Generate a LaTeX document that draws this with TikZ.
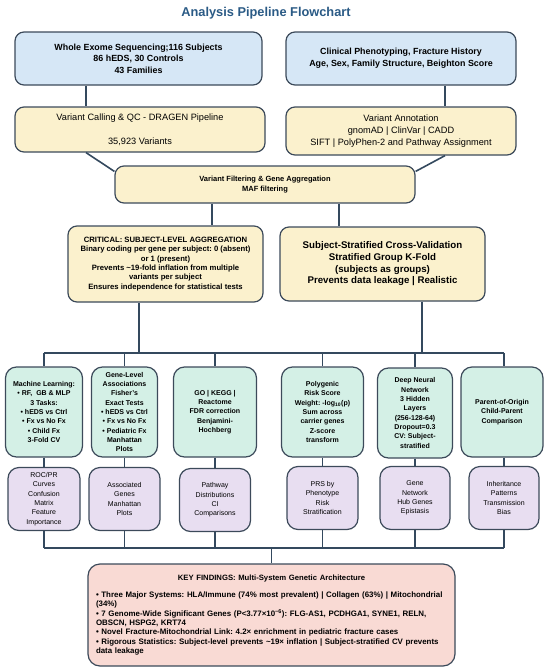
\documentclass[tikz,border=0pt]{standalone}
\usepackage{fontspec}
\setmainfont{Liberation Sans}
\usetikzlibrary{calc}
\definecolor{blueF}{HTML}{D6E7F6}
\definecolor{yellowF}{HTML}{FBF1CD}
\definecolor{greenF}{HTML}{D4F0E6}
\definecolor{purpleF}{HTML}{E8DEF1}
\definecolor{pinkF}{HTML}{F9DAD4}
\definecolor{edgeC}{HTML}{3C4A5A}
\definecolor{lineC}{HTML}{34495E}
\definecolor{titleC}{HTML}{2A5A85}
\tikzset{
  basebox/.style={draw=edgeC, line width=1.2pt, rounded corners=9pt, align=center, inner sep=2pt},
  bluebox/.style={basebox, fill=blueF, font=\bfseries\fontsize{8.9}{11.6}\selectfont},
  yelbox/.style={basebox, fill=yellowF, font=\fontsize{9.2}{11.8}\selectfont},
  filtbox/.style={basebox, fill=yellowF, font=\bfseries\fontsize{7.5}{9.7}\selectfont},
  critbox/.style={basebox, fill=yellowF, font=\bfseries\fontsize{7.7}{9.3}\selectfont},
  subjbox/.style={basebox, fill=yellowF, font=\bfseries\fontsize{9.7}{11.7}\selectfont},
  greenbox/.style={basebox, rounded corners=11pt, fill=greenF, minimum height=90pt, font=\bfseries\fontsize{7}{9.3}\selectfont},
  purpbox/.style={basebox, rounded corners=11pt, fill=purpleF, minimum height=63pt, font=\fontsize{7}{9.3}\selectfont},
  keybox/.style={basebox, rounded corners=12pt, fill=pinkF, font=\bfseries\fontsize{7.9}{9.4}\selectfont, inner xsep=8pt},
  conn/.style={draw=lineC, line width=1.6pt},
}
\begin{document}
\frenchspacing
\begin{tikzpicture}[x=1pt,y=-1pt]
\useasboundingbox (0,0) rectangle (550,672);
\node[font=\bfseries\fontsize{12.8}{15}\selectfont, text=titleC] (title) at (266,13) {Analysis Pipeline Flowchart};

\node[bluebox, minimum width=247pt, minimum height=53pt] (wes) at (138.5,58.5)
  {Whole Exome Sequencing;116 Subjects\\86 hEDS, 30 Controls\\43 Families};
\node[bluebox, minimum width=230pt, minimum height=53pt] (clin) at (401,58.5)
  {Clinical Phenotyping, Fracture History\\Age, Sex, Family Structure, Beighton Score};

\node[yelbox, minimum width=250pt, minimum height=45pt] (vc) at (140,129.5)
  {Variant Calling \& QC - DRAGEN Pipeline\\[12pt]35,923 Variants};
\node[yelbox, minimum width=230pt, minimum height=48pt] (va) at (401,131)
  {Variant Annotation\\gnomAD | ClinVar | CADD\\SIFT | PolyPhen-2 and Pathway Assignment};

\node[filtbox, minimum width=300pt, minimum height=37pt] (vf) at (265,184.5)
  {Variant Filtering \& Gene Aggregation\\MAF filtering};

\node[critbox, minimum width=195pt, minimum height=76pt] (crit) at (165.5,264)
  {CRITICAL: SUBJECT-LEVEL AGGREGATION\\Binary coding per gene per subject: 0 (absent)\\or 1 (present)\\Prevents \textasciitilde19-fold inflation from multiple\\variants per subject\\Ensures independence for statistical tests};
\node[subjbox, minimum width=205pt, minimum height=74pt] (subj) at (382.5,264)
  {Subject-Stratified Cross-Validation\\Stratified Group K-Fold\\(subjects as groups)\\Prevents data leakage | Realistic};

% green row
\node[greenbox, minimum width=77pt] (ml) at (44,412)
  {Machine Learning:\\• RF,\ \ GB \& MLP\\3 Tasks:\\• hEDS vs Ctrl\\• Fx vs No Fx\\• Child Fx\\3-Fold CV};
\node[greenbox, minimum width=66pt] (gene) at (124.5,412)
  {Gene-Level\\Associations\\Fisher's\\Exact Tests\\• hEDS vs Ctrl\\• Fx vs No Fx\\• Pediatric Fx\\Manhattan\\Plots};
\node[greenbox, minimum width=83pt] (go) at (215,412)
  {GO | KEGG |\\Reactome\\FDR correction\\Benjamini-\\Hochberg};
\node[greenbox, minimum width=82pt] (prs) at (322.5,412)
  {Polygenic\\Risk Score\\Weight: -log\textsubscript{10}(p)\\Sum across\\carrier genes\\Z-score\\transform};
\node[greenbox, minimum width=75pt] (dnn) at (415,413)
  {Deep Neural\\Network\\3 Hidden\\Layers\\(256-128-64)\\Dropout=0.3\\CV: Subject-\\stratified};
\node[greenbox, minimum width=82pt] (poo) at (502,412)
  {Parent-of-Origin\\Child-Parent\\Comparison};

% purple row
\node[purpbox, minimum width=72pt] (mlp) at (44,499)
  {ROC/PR\\Curves\\Confusion\\Matrix\\Feature\\Importance};
\node[purpbox, minimum width=71pt] (genep) at (124.5,499)
  {Associated\\Genes\\Manhattan\\Plots};
\node[purpbox, minimum width=71pt] (gop) at (215,500)
  {Pathway\\Distributions\\CI\\Comparisons};
\node[purpbox, minimum width=71pt] (prsp) at (322.5,498)
  {PRS by\\Phenotype\\Risk\\Stratification};
\node[purpbox, minimum width=70pt] (dnnp) at (415,498)
  {Gene\\Network\\Hub Genes\\Epistasis};
\node[purpbox, minimum width=70pt] (poop) at (504,498)
  {Inheritance\\Patterns\\Transmission\\Bias};

% key findings
\node[keybox, text width=351pt, minimum height=102pt] (key) at (271.5,615)
  {\centering{\fontsize{7.7}{9.4}\selectfont KEY FINDINGS: Multi-System Genetic Architecture}\par\vspace{7.6pt}\raggedright
   • Three Major Systems: HLA/Immune (74\% most prevalent) | Collagen (63\%) | Mitochondrial\\(34\%)\\
   • 7 Genome-Wide Significant Genes (P<3.77×10\textsuperscript{−6}): FLG-AS1, PCDHGA1, SYNE1, RELN,\\OBSCN, HSPG2, KRT74\\
   • Novel Fracture-Mitochondrial Link: 4.2× enrichment in pediatric fracture cases\\
   • Rigorous Statistics: Subject-level prevents \textasciitilde19× inflation | Subject-stratified CV prevents\\data leakage\par};

% connector guides
\coordinate (xL) at (86,0);
\coordinate (xR) at (445,0);
\coordinate (xA) at (212,0);
\coordinate (xB) at (339,0);
\coordinate (xC) at (139,0);
\coordinate (xD) at (422,0);
\coordinate (busA) at (0,353);
\coordinate (busB) at (0,548);

\draw[conn] (wes.south -| xL) -- (vc.north -| xL);
\draw[conn] (clin.south -| xR) -- (va.north -| xR);
\draw[conn] (vc.south -| xL) -- ([yshift=-6pt]vf.north west);
\draw[conn] (va.south -| xR) -- ([yshift=-6pt]vf.north east);
\draw[conn] (vf.south -| xA) -- (crit.north -| xA);
\draw[conn] (vf.south -| xB) -- (subj.north -| xB);
\draw[conn] (crit.south -| xC) -- (busA -| xC);
\draw[conn] (subj.south -| xD) -- (busA -| xD);
\draw[conn] (mlp.north |- busA) -- (poop.north |- busA);
\foreach \g/\p in {ml/mlp, gene/genep, go/gop, prs/prsp, dnn/dnnp, poo/poop}{
  \draw[conn] (\p.north |- busA) -- (\g.north -| \p.north);
  \draw[conn] (\g.south -| \p.north) -- (\p.north);
  \draw[conn] (\p.south) -- (\p.south |- busB);
}
\draw[conn] (mlp.south |- busB) -- (poop.south |- busB);
\draw[conn] (key.north |- busB) -- (key.north);
\end{tikzpicture}
\end{document}
